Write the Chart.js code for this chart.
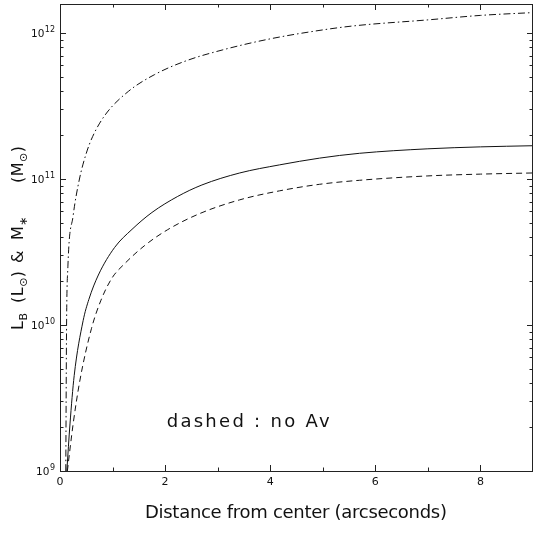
<!DOCTYPE html>
<html>
<head>
<meta charset="utf-8">
<script src="https://cdn.jsdelivr.net/npm/chart.js@4.4.1/dist/chart.umd.min.js"></script>
<style>
  html, body { margin: 0; padding: 0; background: #fff; }
  #wrap { width: 534px; height: 535px; }
</style>
</head>
<body>
<div id="wrap"><canvas id="chart" width="534" height="535"></canvas></div>
<script>
// solid: L_B with Av correction
const lumAvR   = [0.13, 0.19, 0.27, 0.44, 0.55, 0.73, 1.04, 1.37, 1.75, 2.24, 2.7, 3.42, 4.18, 4.94, 5.7, 7.0, 8.0, 9.0];
const lumAvVal = [1.0e9, 2.1e9, 4.5e9, 1.07e10, 1.5e10, 2.2e10, 3.4e10, 4.52e10, 5.9e10, 7.6e10, 9.1e10, 1.1e11, 1.25e11, 1.39e11, 1.5e11, 1.61e11, 1.66e11, 1.69e11];

// dashed: L_B, no Av
const lumNoAvR   = [0.14, 0.25, 0.38, 0.6, 0.78, 0.99, 1.23, 1.61, 2.05, 2.66, 3.42, 4.18, 4.94, 5.7, 7.0, 8.0, 9.0];
const lumNoAvVal = [1.0e9, 2.1e9, 4.2e9, 9.5e9, 1.48e10, 2.1e10, 2.63e10, 3.5e10, 4.5e10, 5.8e10, 7.2e10, 8.3e10, 9.2e10, 9.8e10, 1.05e11, 1.08e11, 1.1e11];

// dash-dot: stellar mass
const massR   = [0.11, 0.125, 0.15, 0.25, 0.37, 0.5, 0.62, 0.86, 1.3, 1.8, 2.4, 3.1, 4.0, 5.0, 5.6, 7.0, 8.0, 9.0];
const massVal = [1.0e9, 1.0e10, 2.5e10, 5.6e10, 1.0e11, 1.5e11, 1.95e11, 2.75e11, 3.98e11, 5.19e11, 6.45e11, 7.67e11, 9.12e11, 1.05e12, 1.12e12, 1.23e12, 1.32e12, 1.38e12];

const xMin = 0, xMax = 9;
const yMin = 1e9, yMax = 1.58e12;
const xTickValues = [0, 2, 4, 6, 8];
const xTickLabels = ['0', '2', '4', '6', '8'];
const xMinorTicks = [1, 3, 5, 7];
const yTickValues = [1e9, 1e10, 1e11, 1e12];
const yTickExponents = ['9', '10', '11', '12'];
const yMinorFactors = [2, 3, 4, 5, 6, 7, 8, 9];

const xTitle = 'Distance from center (arcseconds)';
const noteText = 'dashed : no Av';
const noteX = 2.03, noteY = 2.0e9;

// y title groups: [offset from bottom, pieces]; piece = [text, isSub]
const yTitleGroups = [
    [0,   [['L', 0], ['B', 1]]],
    [27,  [['(', 0], ['L', 0], ['\u2299', 1], [')', 0]]],
    [67,  [['&', 0]]],
    [90,  [['M', 0], ['\u2217', 1]]],
    [147, [['(', 0], ['M', 0], ['\u2299', 1], [')', 0]]]
];

const FONT = '"DejaVu Sans", "Liberation Sans", sans-serif';
const INK = '#111';

function toPoints(xs, ys) {
    return xs.map((x, i) => ({ x: x, y: ys[i] }));
}

// fit text into a given width by adjusting letter spacing
function spacedText(ctx, text, x, y, width) {
    ctx.letterSpacing = '0px';
    const w = ctx.measureText(text).width;
    const ls = (width - w) / (text.length - 1);
    ctx.letterSpacing = ls.toFixed(2) + 'px';
    ctx.fillText(text, x, y);
    ctx.letterSpacing = '0px';
}

const framePlugin = {
    id: 'frame',
    afterDraw(chart) {
        const ctx = chart.ctx;
        const a = chart.chartArea;
        const xs = chart.scales.x, ys = chart.scales.y;
        ctx.save();
        ctx.strokeStyle = '#222';
        ctx.lineWidth = 1;
        ctx.strokeRect(Math.round(a.left) + 0.5, Math.round(a.top) + 0.5,
            Math.round(a.right - a.left) - 1, Math.round(a.bottom - a.top));

        ctx.beginPath();
        const tickX = (v, len) => {
            const px = Math.round(xs.getPixelForValue(v)) + 0.5;
            ctx.moveTo(px, a.bottom); ctx.lineTo(px, a.bottom - len);
            ctx.moveTo(px, a.top); ctx.lineTo(px, a.top + len);
        };
        const tickY = (v, len) => {
            const py = Math.round(ys.getPixelForValue(v)) + 0.5;
            ctx.moveTo(a.left, py); ctx.lineTo(a.left + len, py);
            ctx.moveTo(a.right, py); ctx.lineTo(a.right - len, py);
        };
        xTickValues.forEach(v => tickX(v, 6));
        xMinorTicks.forEach(v => tickX(v, 3.5));
        yTickValues.forEach(v => {
            tickY(v, 6);
            yMinorFactors.forEach(f => { if (v * f <= yMax) tickY(v * f, 3.5); });
        });
        ctx.stroke();

        ctx.fillStyle = INK;
        ctx.textBaseline = 'alphabetic';

        // y tick labels: 10 with raised exponent
        yTickValues.forEach((v, i) => {
            const py = ys.getPixelForValue(v);
            ctx.font = '8px ' + FONT;
            const ew = ctx.measureText(yTickExponents[i]).width;
            ctx.textAlign = 'right';
            ctx.fillText(yTickExponents[i], a.left - 5, py - 1);
            ctx.font = '10.5px ' + FONT;
            ctx.fillText('10', a.left - 5 - ew - 0.5, py + 3.5);
        });

        // x axis title
        ctx.textAlign = 'left';
        ctx.font = '18px ' + FONT;
        spacedText(ctx, xTitle, 145, 518, 302);

        // annotation
        spacedText(ctx, noteText, xs.getPixelForValue(noteX), ys.getPixelForValue(noteY), 163);

        // y axis title with subscripts, rotated
        ctx.translate(23, 330);
        ctx.rotate(-Math.PI / 2);
        yTitleGroups.forEach(([start, pieces]) => {
            let pos = start;
            pieces.forEach(([t, sub]) => {
                ctx.font = (sub ? '11px ' : '16px ') + FONT;
                ctx.fillText(t, pos, sub ? 4 : 0);
                pos += ctx.measureText(t).width + 0.5;
            });
        });
        ctx.restore();
    }
};

function initChart() {
    const lineDefaults = {
        showLine: true, pointRadius: 0, borderWidth: 1, borderColor: INK,
        cubicInterpolationMode: 'monotone', fill: false
    };
    new Chart(document.getElementById('chart'), {
        type: 'scatter',
        data: {
            datasets: [
                Object.assign({ label: 'L_B', data: toPoints(lumAvR, lumAvVal) }, lineDefaults),
                Object.assign({ label: 'L_B no Av', data: toPoints(lumNoAvR, lumNoAvVal), borderDash: [6, 4] }, lineDefaults),
                Object.assign({ label: 'M*', data: toPoints(massR, massVal), borderDash: [7, 3, 1.5, 3] }, lineDefaults)
            ]
        },
        options: {
            responsive: false,
            animation: false,
            devicePixelRatio: 1,
            layout: { padding: { top: 4, right: 1, left: 0, bottom: 0 } },
            plugins: { legend: { display: false }, tooltip: { enabled: false } },
            scales: {
                x: {
                    type: 'linear', min: xMin, max: xMax,
                    grid: { display: false, drawTicks: false },
                    border: { display: false },
                    afterBuildTicks: s => { s.ticks = xTickValues.map(v => ({ value: v })); },
                    afterFit: s => { s.height = 64; },
                    ticks: {
                        autoSkip: false, maxRotation: 0, padding: 5,
                        color: INK, font: { family: FONT, size: 11 },
                        callback: (v, i) => xTickLabels[i]
                    }
                },
                y: {
                    type: 'logarithmic', min: yMin, max: yMax,
                    grid: { display: false, drawTicks: false },
                    border: { display: false },
                    afterBuildTicks: s => { s.ticks = yTickValues.map(v => ({ value: v })); },
                    afterFit: s => { s.width = 60; },
                    ticks: { display: false }
                }
            }
        },
        plugins: [framePlugin]
    });
}

document.addEventListener('DOMContentLoaded', initChart);
</script>
</body>
</html>
